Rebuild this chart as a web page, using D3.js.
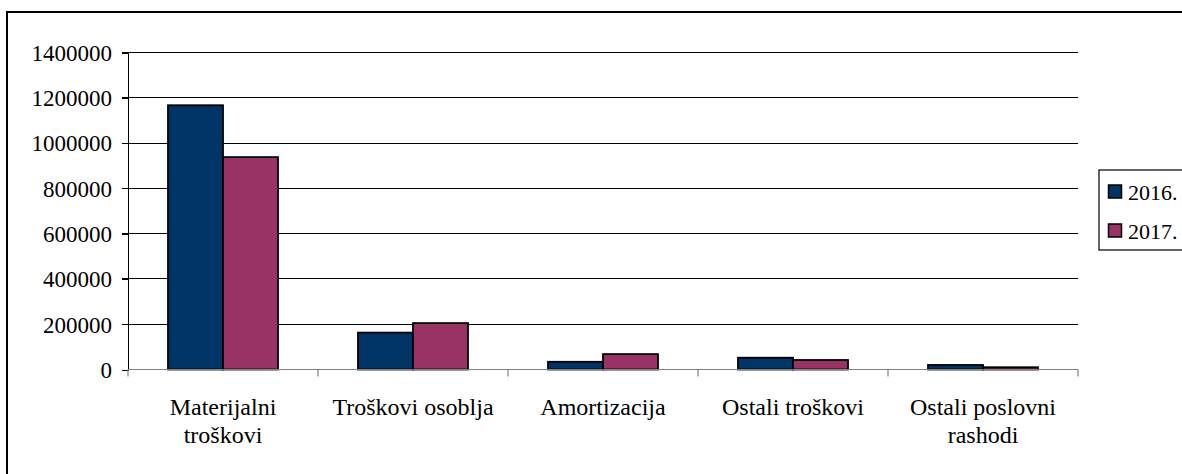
<!DOCTYPE html>
<html>
<head>
<meta charset="utf-8">
<script src="https://cdn.jsdelivr.net/npm/d3@7"></script>
<style>
  html, body { margin: 0; padding: 0; background: #fff; overflow: hidden; }
  svg { display: block; }
</style>
</head>
<body>
<svg id="chart" width="1182" height="474"></svg>
<script>
const categories = [["Materijalni", "troškovi"], ["Troškovi osoblja"], ["Amortizacija"], ["Ostali troškovi"], ["Ostali poslovni", "rashodi"]];
const seriesNames = ["2016.", "2017."];
const values2016 = [1167000, 163000, 34000, 52000, 20000];
const values2017 = [938000, 205000, 68000, 42000, 10000];
const yTicks = [0, 200000, 400000, 600000, 800000, 1000000, 1200000, 1400000];
const colors = ["#003366", "#993366"];

const FONT = "Liberation Serif";
const svg = d3.select("#chart");
const plot = { left: 128, right: 1078, top: 52.5, bottom: 369.5 };

// outer border (extends past the window)
svg.append("rect").attr("x", 7).attr("y", 12).attr("width", 1200).attr("height", 500)
  .attr("fill", "none").attr("stroke", "#000").attr("stroke-width", 2);

const x = d3.scaleBand().domain(d3.range(categories.length)).range([plot.left, plot.right]);
const y = d3.scaleLinear().domain([0, 1400000]).range([plot.bottom, plot.top]);
const gap = x.bandwidth() * 40 / 190;
const inner = d3.scaleBand().domain([0, 1]).range([gap, x.bandwidth() - gap]);

// gridlines
svg.append("g").selectAll("line").data(yTicks.filter(d => d > 0)).join("line")
  .attr("x1", plot.left - 6).attr("x2", plot.right)
  .attr("y1", d => y(d)).attr("y2", d => y(d))
  .attr("stroke", "#000").attr("stroke-width", 1).attr("shape-rendering", "crispEdges");

// y axis
const yAxis = svg.append("g").attr("transform", `translate(${plot.left},0)`)
  .call(d3.axisLeft(y).tickValues(yTicks).tickFormat(d3.format("d")).tickSize(6).tickPadding(10));
yAxis.attr("font-family", null).attr("font-size", null);
yAxis.select(".domain").attr("stroke", "#000").attr("shape-rendering", "crispEdges");
yAxis.selectAll(".tick line").attr("stroke", "#000").attr("shape-rendering", "crispEdges");
yAxis.selectAll("text").attr("fill", "#000").attr("dy", "0.34em")
  .attr("font-family", FONT).attr("font-size", 23)
  .style("font-family", FONT).style("font-size", "23px");

// bars
const series = [values2016, values2017];
series.forEach((vals, si) => {
  svg.append("g").selectAll("rect").data(vals).join("rect")
    .attr("x", (d, i) => x(i) + inner(si))
    .attr("y", d => y(d))
    .attr("width", inner.bandwidth())
    .attr("height", d => y(0) - y(d))
    .attr("fill", colors[si]).attr("stroke", "#000").attr("stroke-width", 1.8);
});

// x axis
const xAxis = svg.append("g").attr("transform", `translate(0,${plot.bottom})`);
xAxis.append("line").attr("x1", plot.left).attr("x2", plot.right).attr("y1", 0).attr("y2", 0)
  .attr("stroke", "#808080").attr("stroke-width", 1.2);
xAxis.selectAll("line.tk").data(d3.range(categories.length + 1)).join("line").attr("class", "tk")
  .attr("x1", i => plot.left + i * x.step()).attr("x2", i => plot.left + i * x.step())
  .attr("y1", 0).attr("y2", 7).attr("stroke", "#808080").attr("stroke-width", 1.2);

// category labels (one text per line)
const lines = [];
categories.forEach((c, i) => c.forEach((ln, j) => lines.push({ i, j, ln })));
svg.append("g").selectAll("text").data(lines).join("text")
  .attr("x", d => x(d.i) + x.bandwidth() / 2).attr("y", d => 415 + d.j * 28)
  .attr("text-anchor", "middle").attr("fill", "#000")
  .attr("font-family", FONT).attr("font-size", 24)
  .style("font-family", FONT).style("font-size", "24px")
  .text(d => d.ln);

// legend
const lg = svg.append("g");
lg.append("rect").attr("x", 1099).attr("y", 170).attr("width", 120).attr("height", 80)
  .attr("fill", "#fff").attr("stroke", "#000").attr("stroke-width", 1.2);
seriesNames.forEach((name, i) => {
  const cy = 192 + i * 39;
  lg.append("rect").attr("x", 1108.5).attr("y", cy - 7).attr("width", 13).attr("height", 13)
    .attr("fill", colors[i]).attr("stroke", "#000").attr("stroke-width", 1.5);
  lg.append("text").attr("x", 1128).attr("y", cy + 7.5).attr("fill", "#000")
    .attr("font-family", FONT).attr("font-size", 22)
    .style("font-family", FONT).style("font-size", "22px").text(name);
});
</script>
</body>
</html>
